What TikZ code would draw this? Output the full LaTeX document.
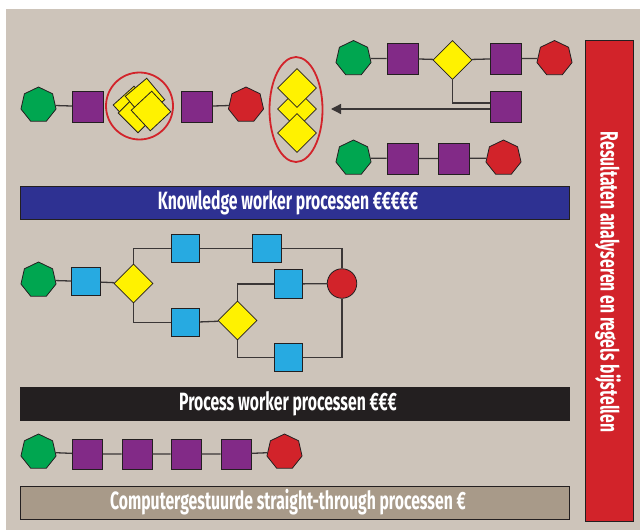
\documentclass[tikz,border=0pt]{standalone}
\usepackage{fontspec}
\newfontfamily\cond[FakeStretch=0.63]{Fira Sans}
\usetikzlibrary{shapes.geometric,arrows.meta}
\definecolor{bg}{HTML}{CDC4BA}
\definecolor{grn}{HTML}{00A650}
\definecolor{purp}{HTML}{822A87}
\definecolor{yel}{HTML}{FFF200}
\definecolor{rd}{HTML}{D2232A}
\definecolor{cyb}{HTML}{27AAE1}
\definecolor{bandblue}{HTML}{2E3192}
\definecolor{bandblack}{HTML}{231F20}
\definecolor{bandtan}{HTML}{A89A89}
\definecolor{outl}{HTML}{231F20}
\definecolor{linec}{HTML}{3A3636}
\begin{document}
\begin{tikzpicture}[x=1pt,y=-1pt,
  hept/.style={regular polygon, regular polygon sides=7, minimum size=36pt, inner sep=0pt, draw=outl, line width=0.8pt},
  psq/.style={rectangle, minimum size=31pt, inner sep=0pt, fill=purp, draw=outl, line width=0.8pt},
  bsq/.style={rectangle, minimum size=28.5pt, inner sep=0pt, fill=cyb, draw=outl, line width=0.8pt},
  dia/.style={diamond, minimum width=39pt, minimum height=39pt, inner sep=0pt, fill=yel, draw=outl, line width=0.8pt},
  ysq/.style={rectangle, minimum size=28pt, inner sep=0pt, fill=yel, draw=outl, line width=0.8pt},
  ring/.style={draw=rd, line width=1.8pt, inner sep=0pt},
  conn/.style={draw=linec, line width=1.3pt},
  band/.style={rectangle, draw=outl, line width=0.8pt, minimum width=549pt, minimum height=33pt, inner sep=0pt},
  bandtext/.style={text=white, font=\cond\bfseries\fontsize{25}{25}\selectfont, inner sep=0pt}
]
\useasboundingbox (0,0) rectangle (640,530);
\fill[white] (0,0) rectangle (640,530);
\fill[bg] (6,9) rectangle (640,530);

% ---- row 1
\node[hept, fill=grn] (a1) at (38.5,105) {};
\node[psq] (a2) at (88,106.5) {};
\node[circle, ring, minimum size=67pt] (rng) at (139.5,106) {};
\node[ysq, rotate=42] (c1) at (133,106) {};
\node[ysq, rotate=45] (c2) at (138,113) {};
\node[ysq, rotate=40] (c3) at (145,98) {};
\node[ysq, rotate=43] (c4) at (151,111) {};
\node[psq] (a3) at (197,106.5) {};
\node[hept, fill=rd] (a4) at (246,105) {};
\node[ellipse, ring, minimum width=53pt, minimum height=105pt] (ell) at (296,109.5) {};
\node[dia] (e2) at (297,109) {};
\node[dia] (e1) at (297,88) {};
\node[dia] (e3) at (297,133) {};
\draw[conn] (a1) -- (a2) (a3) -- (a4);

% ---- row 2
\node[hept, fill=grn] (b1) at (353.5,58.5) {};
\node[psq] (b2) at (402.5,58.5) {};
\node[dia] (b3) at (452.5,60) {};
\node[psq] (b4) at (506,58.5) {};
\node[hept, fill=rd] (b5) at (554.5,58.5) {};
\node[psq] (b6) at (506,107) {};
\coordinate (tip) at (331,109);
\draw[conn] (b1) -- (b2) (b2) -- (b3) (b3) -- (b4) (b4) -- (b5);
\draw[conn] (b3.south) |- ([yshift=4pt]b6.west);
\draw[conn, -{Triangle[length=10pt,width=10pt]}] ([yshift=-2pt]b6.west) -- (tip);

% ---- row 3
\node[hept, fill=grn] (r1) at (353.5,158) {};
\node[psq] (r2) at (402.5,158.5) {};
\node[psq] (r3) at (454,158.5) {};
\node[hept, fill=rd] (r4) at (503.5,158) {};
\draw[conn] (r1) -- (r2) (r2) -- (r3) (r3) -- (r4);

% ---- band 1
\node[band, fill=bandblue] (kb) at (294.5,202.5) {};
\node[bandtext] (kbt) at (288,202.5) {Knowledge worker processen €€€€€};

% ---- process worker diagram
\node[hept, fill=grn] (p1) at (38.5,280) {};
\node[bsq] (p2) at (86,281.5) {};
\node[dia] (p3) at (133.5,283.5) {};
\node[bsq] (p4) at (185.5,248.5) {};
\node[bsq] (p5) at (267,248.5) {};
\node[bsq] (p6) at (185.5,322.5) {};
\node[dia] (p7) at (237.5,320.5) {};
\node[bsq] (p8) at (288.5,284) {};
\node[bsq] (p9) at (288.5,357.5) {};
\node[circle, fill=rd, draw=outl, line width=0.8pt, minimum size=29.5pt, inner sep=0pt] (p10) at (342,283.5) {};
\draw[conn] (p1) -- (p2) (p2) -- (p3);
\draw[conn] (p3.north) |- (p4);
\draw[conn] (p4) -- (p5);
\draw[conn] (p5) -| (p10);
\draw[conn] (p3.south) |- (p6);
\draw[conn] (p6) -- (p7);
\draw[conn] (p7.north) |- (p8);
\draw[conn] (p8) -- (p10);
\draw[conn] (p7.south) |- (p9);
\draw[conn] (p9) -| (p10);

% ---- band 2
\node[band, fill=bandblack] (pb) at (294.5,403.5) {};
\node[bandtext] (pbt) at (288,403.5) {Process worker processen €€€};

% ---- straight-through row
\node[hept, fill=grn] (s1) at (38.5,452) {};
\node[psq, minimum size=30pt] (s2) at (87.5,454) {};
\node[psq, minimum size=30pt] (s3) at (137,454) {};
\node[psq, minimum size=30pt] (s4) at (186,454) {};
\node[psq, minimum size=30pt] (s5) at (236,454) {};
\node[hept, fill=rd] (s6) at (284.5,452) {};
\draw[conn] (s1) -- (s2) (s2) -- (s3) (s3) -- (s4) (s4) -- (s5) (s5) -- (s6);

% ---- band 3
\node[band, fill=bandtan] (cb) at (294.5,502.5) {};
\node[bandtext] (cbt) at (288,502.5) {Computergestuurde straight-through processen €};

% ---- right red band
\node[rectangle, fill=rd, draw=outl, line width=0.8pt, minimum width=48pt, minimum height=481pt, inner sep=0pt] (rb) at (609,280.5) {};
\node[bandtext, rotate=-90] (rbt) at (608,282) {Resultaten analyseren en regels bijstellen};
\end{tikzpicture}
\end{document}
